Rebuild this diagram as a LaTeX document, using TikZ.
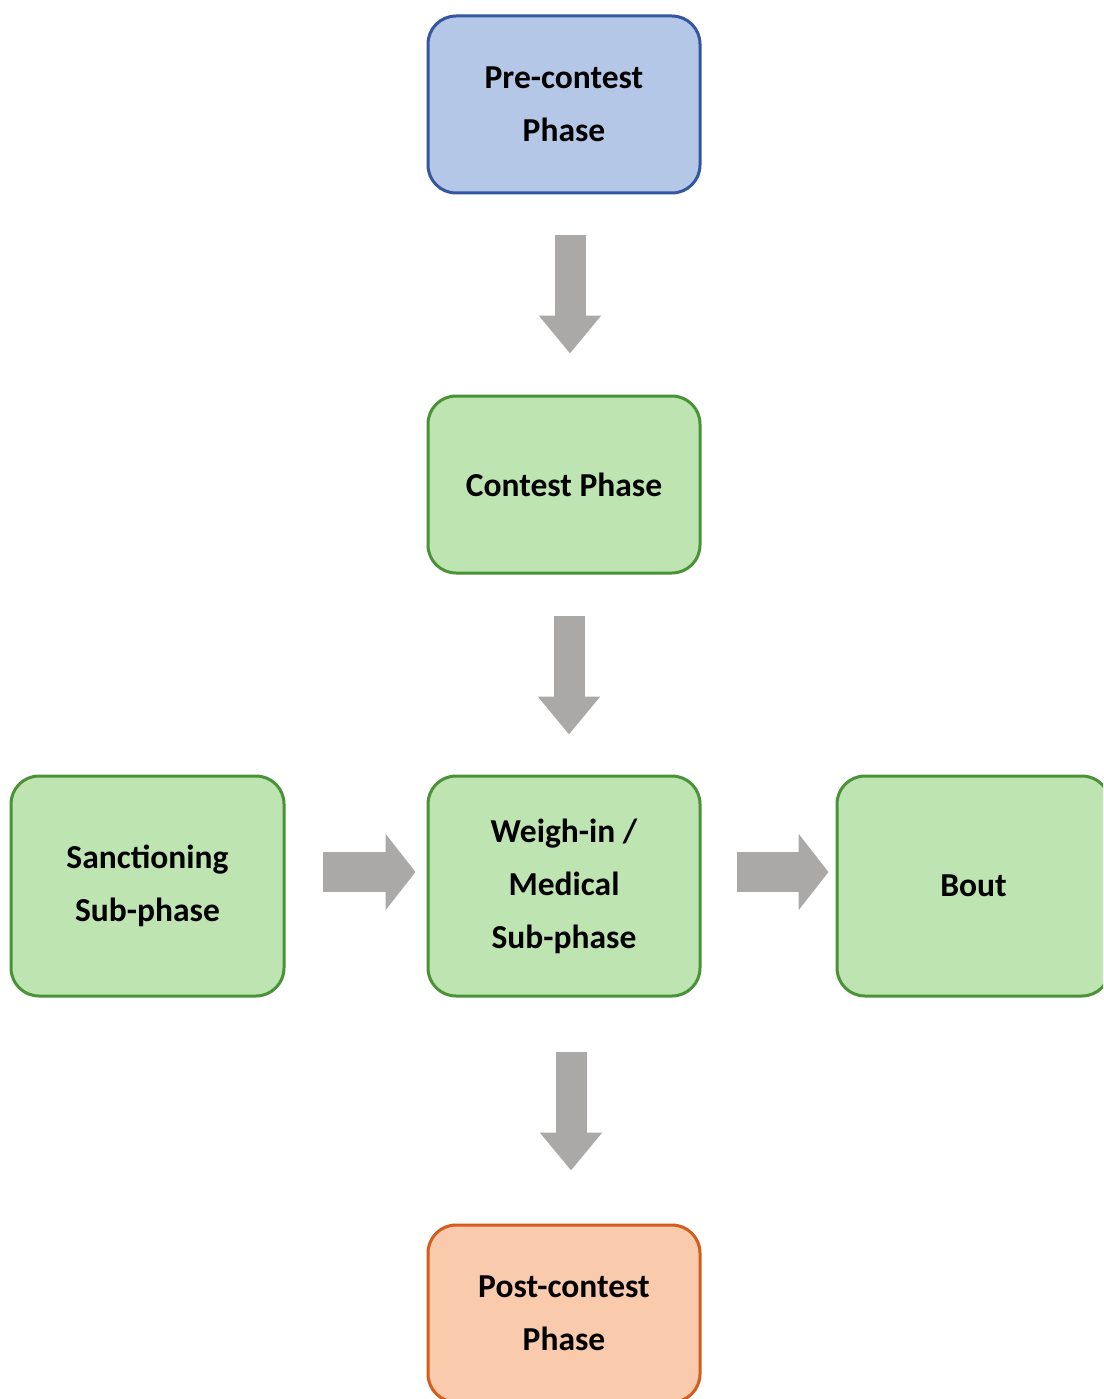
\documentclass[tikz,border=0pt]{standalone}
\usepackage{fontspec}
\setmainfont{Carlito}
\usetikzlibrary{arrows.meta}
\definecolor{bluefill}{RGB}{180,199,231}
\definecolor{blueline}{RGB}{52,86,160}
\definecolor{greenfill}{RGB}{190,228,178}
\definecolor{greenline}{RGB}{74,146,54}
\definecolor{orangefill}{RGB}{250,202,172}
\definecolor{orangeline}{RGB}{212,92,28}
\definecolor{arrowgrey}{RGB}{171,168,168}
\tikzset{
  box/.style={draw, rectangle, rounded corners=28pt, line width=3pt,
    minimum width=272pt, minimum height=177pt, align=center,
    font=\fontsize{33.5}{53}\selectfont\bfseries, inner sep=0pt,
    execute at begin node={\vspace*{10pt}}},
  bluebox/.style={box, fill=bluefill, draw=blueline},
  greenbox/.style={box, fill=greenfill, draw=greenline},
  orangebox/.style={box, fill=orangefill, draw=orangeline},
  downarrow/.style={draw=arrowgrey, line width=31pt,
    -{Triangle[width=60pt,length=38pt,color=arrowgrey]}},
  rightarrow/.style={draw=arrowgrey, line width=40pt,
    -{Triangle[width=75pt,length=30pt,color=arrowgrey]}}
}
\begin{document}
\begin{tikzpicture}[x=1pt,y=-1pt]
\clip (0,0) rectangle (1103,1399);
\useasboundingbox (0,0) rectangle (1103,1399);
\node[bluebox] (pre) at (564,104.5) {Pre-contest\\Phase};
\node[greenbox] (contest) at (564,484.5) {Contest Phase};
\node[greenbox, minimum height=220pt] (weigh) at (564,886) {Weigh-in /\\Medical\\Sub-phase};
\node[greenbox, minimum height=220pt, minimum width=273pt] (sanct) at (147.5,886) {Sanctioning\\Sub-phase};
\node[greenbox, minimum height=220pt, minimum width=273pt] (bout) at (973.5,886) {Bout};
\node[orangebox] (post) at (564,1313.5) {Post-contest\\Phase};
\draw[downarrow, shorten <=40pt, shorten >=41pt] ([xshift=6pt]pre.south) -- ([xshift=6pt]contest.north);
\draw[downarrow, shorten <=41pt, shorten >=40pt] ([xshift=5pt]contest.south) -- ([xshift=5pt]weigh.north);
\draw[downarrow, shorten <=54pt, shorten >=53pt] ([xshift=7pt]weigh.south) -- ([xshift=7pt]post.north);
\draw[rightarrow, shorten <=37pt, shorten >=11pt] ([yshift=14pt]sanct.east) -- ([yshift=14pt]weigh.west);
\draw[rightarrow, shorten <=35pt, shorten >=7pt] ([yshift=14pt]weigh.east) -- ([yshift=14pt]bout.west);
\end{tikzpicture}
\end{document}
